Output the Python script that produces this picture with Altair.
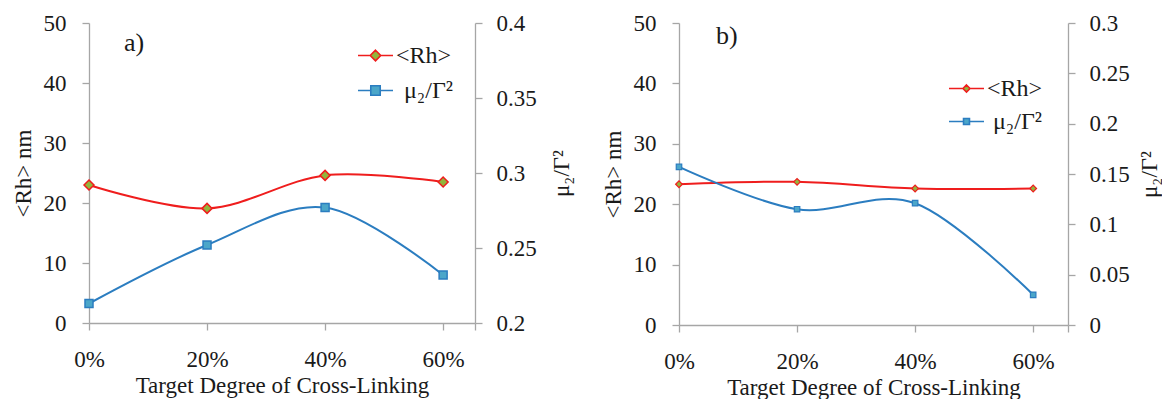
import altair as alt
import pandas as pd

# ---- data ----
x_pct = [0, 20, 40, 60]
rh_a = [23.0, 19.1, 24.6, 23.5]
mu_a = [0.213, 0.252, 0.277, 0.232]
rh_b = [23.3, 23.7, 22.6, 22.6]
mu_b = [0.157, 0.115, 0.121, 0.030]

series = ["<Rh>", "μ₂/Γ²"]
x_ticks = [0, 20, 40, 60]
rh_ticks = [0, 10, 20, 30, 40, 50]
mu_ticks_a = [0.2, 0.25, 0.3, 0.35, 0.4]
mu_ticks_b = [0, 0.05, 0.1, 0.15, 0.2, 0.25, 0.3]

RED = "#ef1d1d"
OLIVE = "#93b53c"
BLUE = "#2b7dc0"
TEAL = "#4ba6c9"
GRAY = "#a6a6a6"
INK = "#1a1a1a"
FONT = "Liberation Serif"
LAB = 23
TIT = 23
LEG = 24


def legend_paths(d, s):
    dia = f"M-1,0H-{d}M{d},0H1M0,-{d}L{d},0L0,{d}L-{d},0Z"
    sq = f"M-1,0H-{s}M{s},0H1M-{s},-{s}H{s}V{s}H-{s}Z"
    return [dia, sq]


def axis(**kw):
    return alt.Axis(labelFont=FONT, labelFontSize=LAB, labelColor=INK,
                    titleFont=FONT, titleFontSize=TIT, titleFontWeight="normal",
                    titleColor=INK, grid=False, **kw)


def panel(label, rh, mu, mu_dom, mu_vals, x_end, w, h, dsize, ssize, pstroke,
          leg_d, leg_s, leg_x, leg_y, leg_row, lab_x, lab_y, mu_title_pad, mu_gap):
    df = pd.DataFrame({"x": x_pct, "rh": rh, "mu": mu})
    base = alt.Chart(df)
    xenc = alt.X(
        "x:Q",
        scale=alt.Scale(domain=[0, x_end], nice=False, zero=False),
        axis=axis(
            values=x_ticks + [x_end],
            labelExpr="datum.value > 61 ? '' : datum.value + '%'",
            title="Target Degree of Cross-Linking",
            labelFlush=False,
            labelOverlap=False,
            labelPadding=18,
            titlePadding=3,
        ),
    )
    yl = alt.Y(
        "rh:Q",
        scale=alt.Scale(domain=[0, 50], nice=False),
        axis=axis(values=rh_ticks, title="<Rh> nm", orient="left",
                  labelPadding=16, titlePadding=8),
    )
    yr = alt.Y(
        "mu:Q",
        scale=alt.Scale(domain=mu_dom, nice=False, zero=False),
        axis=axis(values=mu_vals, format=".2~f", title="μ₂/Γ²", orient="right",
                  titleAngle=270, titleBaseline="top", labelPadding=14,
                  titlePadding=mu_title_pad),
    )
    rh_line = base.mark_line(color=RED, strokeWidth=2, interpolate="cardinal").encode(x=xenc, y=yl)
    rh_pts = base.mark_point(shape="diamond", filled=True, fill=OLIVE, stroke=RED,
                             strokeWidth=pstroke, size=dsize, opacity=1).encode(x=xenc, y=yl)
    mu_line = base.mark_line(color=BLUE, strokeWidth=2, interpolate="cardinal").encode(x=xenc, y=yr)
    mu_pts = base.mark_point(shape="square", filled=True, fill=TEAL, stroke=BLUE,
                             strokeWidth=pstroke, size=ssize, opacity=1).encode(x=xenc, y=yr)

    leg = alt.Legend(
        orient="none", legendX=leg_x, legendY=leg_y, title=None,
        symbolSize=1225, symbolStrokeWidth=1.6, padding=0, rowPadding=leg_row,
        labelFont=FONT, labelFontSize=LEG, labelColor=INK, labelOffset=2,
        labelExpr="datum.label == '<Rh>' ? '<Rh>' : '\u200b" + mu_gap + "' + datum.label",
    )
    leg_df = pd.DataFrame({"series": series})
    carrier = alt.Chart(leg_df).transform_filter("false").mark_point(filled=True, opacity=1).encode(
        shape=alt.Shape("series:N", scale=alt.Scale(domain=series, range=legend_paths(leg_d, leg_s)), legend=leg),
        stroke=alt.Stroke("series:N", scale=alt.Scale(domain=series, range=[RED, BLUE]), legend=leg),
        fill=alt.Fill("series:N", scale=alt.Scale(domain=series, range=[OLIVE, TEAL]), legend=leg),
    )
    lab = alt.Chart(alt.Data(values=[{"t": label}])).mark_text(
        font=FONT, fontSize=26, align="left", baseline="middle", color=INK
    ).encode(text="t:N", x=alt.value(lab_x), y=alt.value(lab_y))

    return alt.layer(
        alt.layer(rh_line, rh_pts),
        alt.layer(mu_line, mu_pts),
        carrier,
        lab,
    ).resolve_scale(y="independent").properties(width=w, height=h)


pa = panel("a)", rh_a, mu_a, [0.2, 0.4], mu_ticks_a, 65.4, 386, 300, 100, 64, 1.5,
           0.3, 0.27, 268, 14, 4, 35, 20, 14, "\u00a0\u200a")
pb = panel("b)", rh_b, mu_b, [0, 0.3], mu_ticks_b, 65.9, 389, 302, 45, 30, 1.2,
           0.2, 0.17, 269, 47, 2, 37, 13, 9, "\u00a0")

chart = (
    alt.hconcat(pa, pb, spacing=28)
    .resolve_scale(shape="independent", stroke="independent", fill="independent")
    .resolve_legend(shape="independent", stroke="independent", fill="independent")
    .properties(padding={"left": 4, "top": 4, "right": 0, "bottom": 0})
    .configure(font=FONT)
    .configure_view(stroke=None)
    .configure_axis(
        domainColor=GRAY, tickColor=GRAY, domainWidth=1.3, tickWidth=1.3, tickSize=7,
        grid=False,
        labelFont=FONT, labelFontSize=LAB, labelColor=INK,
        titleFont=FONT, titleFontSize=TIT, titleFontWeight="normal", titleColor=INK,
    )
    .configure_legend(labelFont=FONT, labelFontSize=LEG)
)

chart.save("out.html", embed_options={"renderer": "svg", "actions": False})
